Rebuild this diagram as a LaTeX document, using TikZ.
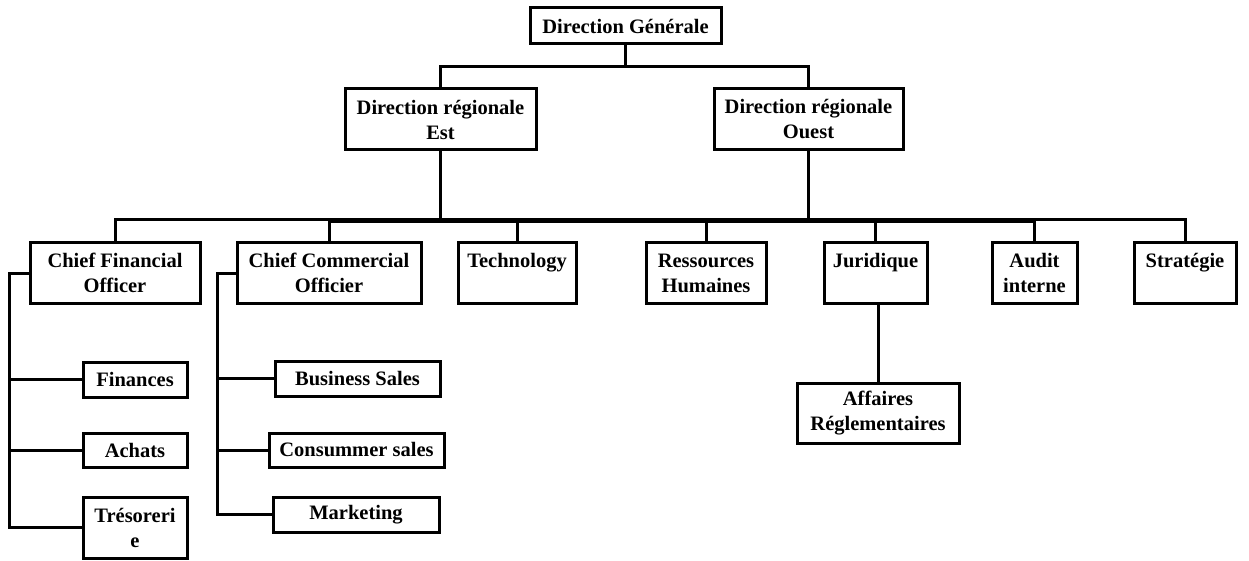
\documentclass[tikz,border=0pt]{standalone}
\usepackage{fontspec}
\setmainfont{Liberation Serif}
\begin{document}
\begin{tikzpicture}[x=1pt,y=-1pt,
  box/.style={draw,line width=3pt,rectangle,inner sep=0pt,align=center,
    font=\bfseries\fontsize{20.5}{25}\selectfont},
  link/.style={line width=3pt}]
\useasboundingbox (0,0) rectangle (1249,561);
% top levels
\node[box,minimum width=191,minimum height=36] (DG) at (625.5,26) {Direction Générale};
\node[box,minimum width=191,minimum height=61] (Est) at (440.5,119.5) {Direction régionale\\Est};
\node[box,minimum width=189,minimum height=61] (Ouest) at (808.5,119.5) {Direction régionale\\Ouest};
% second row
\node[box,minimum width=170,minimum height=60] (CFO) at (115,273) {Chief Financial\\Officer};
\node[box,minimum width=184,minimum height=60] (CCO) at (329,273) {Chief Commercial\\Officier};
\node[box,minimum width=118,minimum height=61] (Tech) at (517,273) {Technology\\\mbox{}};
\node[box,minimum width=120,minimum height=60] (RH) at (706,273) {Ressources\\Humaines};
\node[box,minimum width=103,minimum height=61] (Jur) at (875.5,273) {Juridique\\\mbox{}};
\node[box,minimum width=85,minimum height=61] (Aud) at (1034.5,273) {Audit\\interne};
\node[box,minimum width=102,minimum height=61] (Strat) at (1185,273) {Stratégie\\\mbox{}};
% third level
\node[box,minimum width=104,minimum height=35] (Fin) at (135,379.5) {Finances};
\node[box,minimum width=104,minimum height=34] (Ach) at (135,450) {Achats};
\node[box,minimum width=104,minimum height=61] (Tres) at (135,527.5) {Trésoreri\\e};
\node[box,minimum width=165,minimum height=35] (BS) at (357.5,378.5) {Business Sales};
\node[box,minimum width=175,minimum height=34] (CS) at (356.5,450) {Consummer sales};
\node[box,minimum width=166,minimum height=35] (Mkt) at (356,514.5) {Marketing};
\node[box,minimum width=162,minimum height=60] (Aff) at (878,413) {Affaires\\Réglementaires};
% connectors top
\coordinate (j0) at (625.5,67);
\draw[link] (DG) -- (j0);
\draw[link] (Est.north) |- (j0) -| (Ouest.north);
% bus
\coordinate (busR) at (1185,220);
\draw[link] (Est.south) -- (Est.south |- busR);
\draw[link] (Ouest.south) -- (Ouest.south |- busR);
\draw[link] (CFO.north) |- (busR) -- (Strat.north);
\draw[link] ([yshift=-1.2pt]CCO.north |- busR) -- ([yshift=-1.2pt]Aud.north |- busR);
\foreach \n in {CCO,Tech,RH,Jur,Aud}{
  \draw[link] (\n.north) -- (\n.north |- busR);
}
% CFO branch
\coordinate (lc) at (9,273);
\draw[link] (CFO.west) -- (lc) |- (Tres.west);
\draw[link] (Fin.west) -- (Fin.west -| lc);
\draw[link] (Ach.west) -- (Ach.west -| lc);
% CCO branch
\coordinate (mc) at (217,273);
\draw[link] (CCO.west) -- (mc) |- (Mkt.west);
\draw[link] (BS.west) -- (BS.west -| mc);
\draw[link] (CS.west) -- (CS.west -| mc);
% Juridique branch
\draw[link] (Aff.north) -- (Aff.north |- Jur.south);
\end{tikzpicture}
\end{document}
